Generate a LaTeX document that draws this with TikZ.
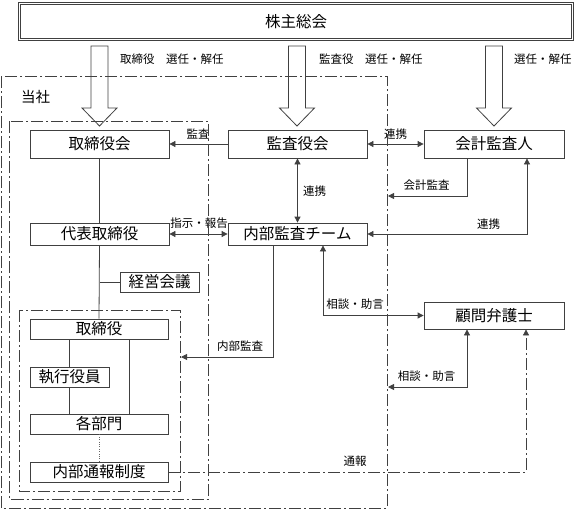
\documentclass[tikz,border=0pt]{standalone}
\usepackage{fontspec}
\setmainfont{Noto Sans CJK JP}
\usetikzlibrary{arrows.meta,calc}

\tikzset{
  box/.style={draw=black!75, line width=0.8pt, inner sep=0pt, font=\fontsize{15.5}{16}\selectfont},
  lbl/.style={inner sep=0pt, font=\fontsize{11.5}{12}\selectfont},
  ln/.style={draw=black!75, line width=0.8pt},
  arr/.style={ln, -{Triangle[length=6pt,width=6pt]}},
  darr/.style={ln, {Triangle[length=6pt,width=6pt]}-{Triangle[length=6pt,width=6pt]}},
  dd/.style={draw=black!75, line width=0.8pt, dash pattern=on 12pt off 3pt on 2pt off 3pt},
}

\begin{document}
\begin{tikzpicture}[x=1pt,y=-1pt]
     \useasboundingbox (0,0) rectangle (576,509);

     \node[box, double, double distance=1.8pt, line width=0.6pt, minimum width=553, minimum height=36] (gm) at (296,21.5) {株主総会};

     \node[box, minimum width=139, minimum height=28] (board) at (99.5,144) {取締役会};
     \node[box, minimum width=139, minimum height=28] (aud) at (297.5,144) {監査役会};
     \node[box, minimum width=140, minimum height=28] (acc) at (494,144) {会計監査人};
     \node[box, minimum width=139, minimum height=22] (rep) at (99.5,234) {代表取締役};
     \node[box, minimum width=139, minimum height=22] (ia) at (297.5,234) {内部監査チーム};
     \node[box, minimum width=79, minimum height=20] (mgmt) at (159.5,282) {経営会議};
     \node[box, minimum width=140, minimum height=27] (law) at (494,315.5) {顧問弁護士};
     \node[box, minimum width=138, minimum height=20] (dir) at (99,329) {取締役};
     \node[box, minimum width=79, minimum height=20] (exec) at (69.5,377) {執行役員};
     \node[box, minimum width=138, minimum height=20] (dept) at (99,424) {各部門};
     \node[box, minimum width=138, minimum height=20] (wb) at (99,472) {内部通報制度};

     \node[inner sep=0pt, font=\fontsize{14.5}{15}\selectfont] (co) at (35.5,97) {当社};

     \node[lbl, anchor=west] (l1) at (120,59) {取締役　選任・解任};
     \node[lbl, anchor=west] (l2) at (319,59) {監査役　選任・解任};
     \node[lbl, anchor=west] (l3) at (514,59) {選任・解任};
     \node[lbl] (l4) at (198,134) {監査};
     \node[lbl] (l5) at (395.5,134) {連携};
     \node[lbl, anchor=west] (l6) at (303,191) {連携};
     \node[lbl] (l7) at (426.5,185) {会計監査};
     \node[lbl] (l8) at (199,223) {指示・報告};
     \node[lbl] (l9) at (488.5,224) {連携};
     \node[lbl] (l10) at (355,304) {相談・助言};
     \node[lbl] (l11) at (240,346) {内部監査};
     \node[lbl] (l12) at (426.5,376) {相談・助言};
     \node[lbl] (l13) at (355,461) {通報};

     \coordinate (k1) at (388,196);
     \coordinate (k2) at (181,357);
     \coordinate (k3) at (388,387);

     \foreach \x in {99.5,297,494}
       \draw[ln] ({\x-8.5},46) -- ({\x-8.5},108) -- ({\x-17.5},108) -- (\x,126)
         -- ({\x+17.5},108) -- ({\x+8.5},108) -- ({\x+8.5},46) -- cycle;

     \draw[dd] (1,76) rectangle (387,508);
     \draw[dd] (9.5,121) rectangle (208,499);
     \draw[dd] (19,310) rectangle (180,491);

     \draw[ln] (board.south) -- (rep.north);
     \draw[ln] (rep.south) -- (dir.north);
     \draw[ln] (mgmt.west) -- (mgmt.west -| rep.south);
     \draw[ln] (exec.north |- dir.south) -- (exec.north);
     \draw[ln] (exec.south) -- (exec.south |- dept.north);
     \draw[ln] ($(dir.south)+(30,0)$) -- ($(dept.north)+(30,0)$);
     \draw[black!60, dotted] (dept.south) -- (wb.north);

     \draw[arr] (aud.west) -- (board.east);
     \draw[darr] (aud.east) -- (acc.west);
     \draw[darr] (aud.south) -- (ia.north);
     \draw[darr] (rep.east) -- (ia.west);
     \draw[arr] ($(acc.south)+(-27,0)$) |- (k1);
     \draw[darr] ($(acc.south)+(33,0)$) |- (ia.east);
     \draw[darr] ($(ia.south)+(25.5,0)$) |- (law.west);
     \draw[arr] ($(ia.south)+(-24.5,0)$) |- (k2);
     \draw[darr] ($(law.south)+(-27,0)$) |- (k3);
     \draw[dd, -{Triangle[length=6pt,width=6pt]}] (wb.east) -| ($(law.south)+(32,0)$);

\end{tikzpicture}
\end{document}
